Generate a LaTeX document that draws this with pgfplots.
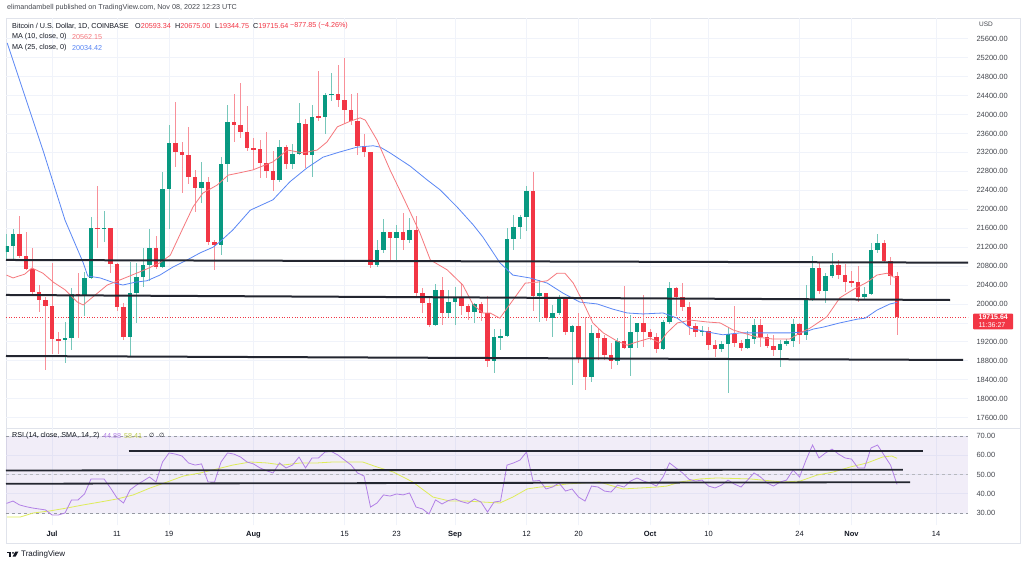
\documentclass[border=0pt]{standalone}
\usepackage{pgfplots}
\pgfplotsset{compat=1.18}
\usepackage{pgfplotstable}
\usepackage{fontspec}
\setmainfont{Liberation Sans}
\newfontfamily\djv{DejaVu Sans}
\definecolor{tvgreen}{RGB}{8,153,129}
\definecolor{tvred}{RGB}{242,54,69}
\definecolor{ma10}{RGB}{246,120,125}
\definecolor{ma25}{RGB}{90,135,245}
\definecolor{rsiline}{RGB}{178,128,230}
\definecolor{rsisma}{RGB}{222,236,90}
\definecolor{rsiband}{RGB}{126,87,194}
\definecolor{gridc}{RGB}{240,243,250}
\definecolor{framec}{RGB}{224,227,235}
\definecolor{txt}{RGB}{19,23,34}
\definecolor{lbl}{RGB}{70,73,80}
\definecolor{hline}{RGB}{35,38,48}
\definecolor{dashc}{RGB}{150,153,162}
\newcommand\tvf{\fontsize{7.5}{9}\selectfont}
\newcommand\tvs{\fontsize{7.2}{8.5}\selectfont}
\pgfplotsset{candle/.style={only marks, mark=*, mark size=0pt, mark options={draw=none, fill=none}, forget plot,
  error bars/.cd, y dir=both, y explicit, error mark=none}}

% green candles: d o h l c
\pgfplotstableread{
d o h l c
-7 21100 21480 20950 21230
-6 21230 21580 20910 21480
2 19230 19620 18760 19290
3 19290 20340 19030 20220
5 20180 20670 19750 20550
6 20550 21840 20530 21610
8 21590 21960 21310 21600
12 19310 20880 18880 20230
13 20230 20870 19600 20570
14 20570 21180 20360 20820
15 20820 21580 20480 21190
17 20780 22780 20750 22430
18 22430 23780 21580 23400
23 22450 23000 22130 22580
26 21250 23110 21040 22950
27 22950 24200 22580 23840
35 22620 23460 22580 23310
37 22950 23380 22850 23170
38 23170 24240 23150 23810
40 23150 24200 22680 23950
42 23940 24450 23590 24410
43 24410 24880 24290 24440
50 20830 21350 20780 21130
51 21130 21790 21070 21510
53 21400 21670 20890 21520
55 21360 21820 21290 21560
59 19550 20420 19540 20290
61 19810 20300 19730 20050
62 20050 20360 19560 20140
65 19830 20030 19600 19990
68 18800 19470 18540 19300
69 19300 19470 19030 19320
70 19320 21600 19300 21370
71 21370 21880 21140 21630
72 21630 21880 21370 21830
73 21830 22490 21540 22390
75 20170 20510 19620 20230
77 19700 19980 19300 19810
78 19810 20190 19770 20150
80 19410 19560 18290 19540
83 18460 19560 18350 19390
87 18800 19280 18710 19220
89 19070 19770 18480 19410
90 19410 19600 19070 19600
94 19050 19660 19030 19620
95 19620 20460 19580 20340
100 19410 19540 19320 19440
103 19050 19220 18990 19160
104 19160 19520 18120 19370
107 19070 19420 19060 19270
108 19270 19680 19160 19560
112 19030 19250 18670 19160
113 19160 19260 19110 19210
114 19210 19690 19090 19570
116 19340 20400 19250 20080
117 20080 21010 20060 20760
119 20280 20650 20020 20590
120 20590 21080 20550 20820
125 20150 20360 20080 20210
126 20210 21290 20180 21140
127 21140 21480 21080 21290
}\greendata

% red candles
\pgfplotstableread{
d o h l c
-5 21480 21860 20970 21010
-4 21010 21520 20720 20740
-3 20740 21180 20190 20250
-2 20250 20400 19840 20090
-1 20090 20140 18610 19960
0 19960 20870 18950 19260
1 19260 19410 18950 19230
4 20220 20650 19280 20180
7 21610 22490 21180 21590
9 21600 21600 20650 20850
10 20850 20860 19850 19940
11 19940 20030 19240 19310
16 21190 21440 20740 20780
19 23400 24260 22900 23210
20 23210 23420 22340 23150
21 23150 23740 22530 22680
22 22680 22830 21940 22450
24 22580 22670 21250 21310
25 21310 21350 20720 21250
28 23840 24440 23420 23780
29 23780 24660 23500 23630
30 23630 24180 23220 23290
31 23290 23500 22840 23270
32 23270 23460 22660 22980
33 22980 23630 22660 22810
34 22810 23230 22390 22620
36 23310 23360 22860 22950
39 23810 23900 22870 23150
41 23950 24920 23860 23940
44 24440 25050 24160 24300
45 24300 25200 23800 24090
46 24090 24430 23770 23860
47 23860 24450 23150 23340
48 23340 23590 23100 23200
49 23200 23210 20760 20830
52 21510 21530 20890 21400
54 21520 21920 21140 21360
56 21560 21860 20130 20240
57 20240 20340 19810 20030
58 20030 20150 19520 19550
60 20290 20570 19550 19810
63 20140 20440 19770 19950
64 19950 20000 19660 19830
66 19990 20050 19640 19800
67 19800 20170 18670 18800
74 22390 22790 19850 20170
76 20230 20240 19640 19700
79 20150 20150 19350 19410
81 19540 19810 18760 18860
82 18860 19730 18180 18460
84 19390 19490 18820 19280
85 19280 19350 18820 18920
86 18920 19180 18630 18800
88 19220 20380 19050 19070
91 19600 20190 19090 19410
92 19410 19480 19240 19300
93 19300 19390 18970 19050
96 20340 20360 19750 20150
97 20150 20440 19850 19940
98 19940 20050 19340 19530
99 19530 19600 19300 19410
101 19440 19520 19030 19130
102 19130 19250 18880 19050
105 19370 19960 19100 19180
106 19180 19230 19000 19070
109 19560 19690 19090 19310
110 19310 19360 19070 19120
111 19120 19340 18900 19030
115 19570 19600 19160 19340
118 20760 20870 20210 20280
121 20820 20930 20530 20610
122 20610 20840 20250 20470
123 20470 20700 20350 20460
124 20460 20800 20040 20150
128 21290 21350 20860 20900
129 20900 21000 20400 20593.34
130 20593.34 20675 19344.75 19715.64
}\reddata

\begin{document}
\begin{tikzpicture}[x=1pt,y=1pt]
\fill[white] (0,0) rectangle (1024,565);
% frame and separators
\draw[framec, line width=0.7pt] (6,22) rectangle (1020,547);
\draw[framec, line width=0.7pt] (6,137) -- (1020,137);

% ---------------- main price pane ----------------
\begin{axis}[
  at={(6pt,137pt)}, anchor=south west,
  width=962pt, height=410pt, scale only axis,
  xmin=-7.08, xmax=140.92, ymin=17382, ymax=26037,
  axis line style={draw=none},
  xtick={0,10,18,31,45,53,62,73,81,92,101,115,123,136},
  xticklabels={},
  ytick={17600,18000,18400,18800,19200,20000,20400,20800,21200,21600,22000,22400,22800,23200,23600,24000,24400,24800,25200,25600},
  yticklabel pos=right,
  scaled y ticks=false,
  major tick length=0pt,
  grid=major,
  major grid style={draw=gridc, line width=0.8pt},
  yticklabel style={font=\tvf, text=lbl, anchor=west, xshift=5pt,
    /pgf/number format/fixed, /pgf/number format/fixed zerofill,
    /pgf/number format/precision=2, /pgf/number format/1000 sep={},
    /pgf/number format/assume math mode=true},
]
% grid line at 19600 (its label is covered by the last-price tag)
\draw[gridc, line width=0.8pt] (axis cs:-7.08,19600) -- (axis cs:140.92,19600);
% last price dotted line
\addplot[tvred, dotted, line width=0.6pt, forget plot] coordinates {(-7.08,19715.64) (140.92,19715.64)};

% wicks
\addplot[candle, error bar style={line width=1pt, draw=tvgreen!55!white}]
  table[x=d, y expr={(\thisrow{h}+\thisrow{l})/2}, y error expr={(\thisrow{h}-\thisrow{l})/2}] {\greendata};
\addplot[candle, error bar style={line width=1pt, draw=tvred!55!white}]
  table[x=d, y expr={(\thisrow{h}+\thisrow{l})/2}, y error expr={(\thisrow{h}-\thisrow{l})/2}] {\reddata};
% bodies
\addplot[candle, error bar style={line width=4.8pt, draw=tvgreen}]
  table[x=d, y expr={(\thisrow{o}+\thisrow{c})/2}, y error expr={max(abs(\thisrow{c}-\thisrow{o})/2,14)}] {\greendata};
\addplot[candle, error bar style={line width=4.8pt, draw=tvred}]
  table[x=d, y expr={(\thisrow{o}+\thisrow{c})/2}, y error expr={max(abs(\thisrow{c}-\thisrow{o})/2,14)}] {\reddata};

% MA 25
\addplot[ma25, line width=0.8pt, mark=none] coordinates {
(-6.9,25510) (-1.4,23250) (2.0,21770) (4.8,20870) (5.5,20590) (7.4,20550) (9.7,20440) (10.9,20400) (12.8,20460) (14.6,20490) (16.6,20610) (18.6,20780) (20.8,20930) (22.8,21080) (24.8,21200) (25.8,21310) (27.8,21560) (30.5,21980) (34.0,22200) (36.6,22580) (39.2,22870) (41.7,23100) (44.3,23210) (46.9,23310) (49.4,23340) (50.5,23310) (52.0,23190) (55.1,22910) (57.7,22620) (59.7,22410) (62.3,22050) (64.8,21670) (66.3,21410) (68.9,20870) (70.9,20610) (73.5,20550) (76.2,20440) (78.6,20230) (81.2,20040) (83.9,20000) (86.3,19890) (88.5,19810) (90.9,19790) (94.0,19810) (96.2,19700) (98.2,19490) (100.8,19410) (103.2,19350) (105.9,19390) (110.9,19390) (113.5,19390) (115.9,19410) (117.1,19470) (118.6,19510) (121.2,19600) (123.9,19680) (125.1,19700) (126.9,19870) (128.9,20000) (130,20034.42)};
% MA 10
\addplot[ma10, line width=0.8pt, mark=none] coordinates {
(-7,20610) (-6,20550) (-4.2,20630) (-3.1,20760) (-1.4,20650) (0.2,20460) (2.0,20300) (3.9,20040) (4.8,19980) (6.3,20150) (8.5,20400) (10.5,20510) (12.3,20610) (14.6,20740) (16.6,20870) (18.2,21030) (20.0,21560) (21.7,22050) (23.2,22340) (25.4,22510) (27.1,22720) (28.9,22770) (30.9,22830) (34.0,23000) (36.2,23250) (38.6,23190) (40.8,23250) (42.3,23420) (43.9,23740) (45.9,23860) (47.4,23930) (48.2,23880) (50.0,23460) (52.0,22830) (54.0,22260) (55.1,21940) (56.6,21500) (58.2,20930) (60.8,20720) (63.2,20400) (64.8,19980) (66.3,19810) (67.4,19810) (68.9,19700) (70.9,20080) (72.8,20440) (74.6,20460) (76.2,20490) (77.7,20650) (78.9,20650) (80.2,20440) (81.7,20040) (83.2,19600) (84.8,19390) (86.9,19220) (88.5,19130) (90.0,19200) (92.0,19280) (93.5,19180) (94.6,19390) (96.2,19600) (98.2,19660) (100.8,19620) (102.8,19600) (104.8,19450) (106.3,19390) (108.5,19300) (110.9,19260) (113.5,19260) (115.1,19390) (116.6,19490) (119.2,19730) (121.2,20130) (123.2,20300) (125.4,20460) (126.9,20610) (128.5,20650) (129.4,20570) (130,20562.15)};

% drawn horizontal levels
\addplot[hline, line width=2pt, mark=none] coordinates {(-7.08,20929) (140.92,20872)};
\addplot[hline, line width=2pt, mark=none] coordinates {(-7.08,20190) (138.15,20084)};
\addplot[hline, line width=2pt, mark=none] coordinates {(-7.08,18902) (140.15,18818)};
\end{axis}

% ---------------- RSI pane ----------------
\begin{axis}[
  at={(6pt,40pt)}, anchor=south west,
  width=962pt, height=97pt, scale only axis,
  xmin=-7.08, xmax=140.92, ymin=23.77, ymax=74.16,
  axis line style={draw=none},
  xtick={0,10,18,31,45,53,62,73,81,92,101,115,123,136},
  xticklabels={\textbf{Jul},11,19,\textbf{Aug},15,23,\textbf{Sep},12,20,\textbf{Oct},10,24,\textbf{Nov},14},
  xticklabel style={font=\tvf, text=txt, yshift=-3pt},
  ytick={30,40,50,60,70},
  yticklabel pos=right,
  scaled y ticks=false,
  major tick length=0pt,
  grid=major,
  major grid style={draw=gridc, line width=0.8pt},
  yticklabel style={font=\tvf, text=lbl, anchor=west, xshift=5pt,
    /pgf/number format/fixed, /pgf/number format/fixed zerofill,
    /pgf/number format/precision=2,
    /pgf/number format/assume math mode=true},
]
\fill[rsiband, fill opacity=0.1] (axis cs:-7.08,30) rectangle (axis cs:140.92,70);
\draw[dashc, line width=0.6pt, dash pattern=on 3pt off 3pt] (axis cs:-7.08,70) -- (axis cs:140.92,70);
\draw[dashc!70!white, line width=0.6pt, dash pattern=on 3pt off 3pt] (axis cs:-7.08,50) -- (axis cs:140.92,50);
\draw[dashc, line width=0.6pt, dash pattern=on 3pt off 3pt] (axis cs:-7.08,30) -- (axis cs:140.92,30);

% RSI SMA
\addplot[rsisma, line width=0.8pt, mark=none] coordinates {
(-6.9,27.9) (-4.9,27.9) (-2.9,30.0) (-0.3,31.1) (2.3,32.6) (4.8,34.2) (7.4,35.7) (10.0,37.3) (12.5,39.4) (15.1,43.0) (17.7,46.1) (20.2,49.2) (22.8,50.8) (25.4,52.9) (27.8,54.9) (30.5,56.5) (33.1,56.0) (35.5,54.9) (38.2,56.0) (40.8,56.0) (43.2,56.5) (45.8,56.5) (47.8,56.5) (50.0,53.9) (52.5,51.3) (55.5,46.1) (58.6,38.3) (61.2,36.2) (63.8,36.2) (66.3,35.7) (68.9,35.2) (70.9,38.3) (73.1,42.5) (75.1,43.5) (77.1,44.0) (79.2,45.1) (81.7,45.6) (84.3,46.1) (85.8,44.5) (87.8,42.5) (90.5,43.0) (93.1,43.5) (94.6,44.0) (96.6,46.1) (99.7,47.7) (102.3,48.2) (107.4,47.7) (112.5,46.1) (115.1,46.6) (117.7,49.7) (120.2,51.3) (122.8,53.9) (125.4,56.0) (127.8,59.1) (129.2,59.6) (130,58.41)};
% RSI
\addplot[rsiline, line width=0.8pt, mark=none] coordinates {
(-7,35.0) (-6,36.2) (-5,34.2) (-4,33.3) (-3,32.6) (-2,32.1) (-1,31.6) (0,29.0) (1,29.0) (2,30.0) (3,36.8) (4,36.8) (5,39.9) (6,47.7) (7,47.7) (8,47.7) (9,43.0) (10,37.8) (11,35.2) (12,42.0) (13,44.5) (14,46.6) (15,48.7) (16,46.1) (17,56.5) (18,61.2) (19,60.6) (20,59.6) (21,56.0) (22,54.9) (23,55.5) (24,46.1) (25,46.1) (26,56.5) (27,61.2) (28,60.6) (29,59.1) (30,56.5) (31,55.5) (32,53.4) (33,52.0) (34,50.8) (35,56.0) (36,53.4) (37,54.9) (38,59.1) (39,53.4) (40,58.6) (41,58.6) (42,61.7) (43,61.9) (44,60.1) (45,57.5) (46,55.0) (47,50.8) (48,49.2) (49,33.1) (50,35.2) (51,39.4) (52,38.8) (53,39.9) (54,39.4) (55,40.4) (56,33.1) (57,32.1) (58,29.5) (59,36.8) (60,34.7) (61,36.5) (62,37.3) (63,35.9) (64,35.0) (65,37.3) (66,35.7) (67,30.5) (68,35.7) (69,36.2) (70,54.9) (71,56.0) (72,57.5) (73,61.7) (74,46.6) (75,46.9) (76,42.5) (77,43.5) (78,45.6) (79,41.4) (80,42.5) (81,38.3) (82,36.2) (83,44.0) (84,43.5) (85,41.4) (86,40.9) (87,44.5) (88,43.5) (89,46.6) (90,48.2) (91,46.6) (92,45.6) (93,44.0) (94,48.7) (95,56.0) (96,53.4) (97,50.8) (98,47.5) (99,46.6) (100,47.1) (101,44.0) (102,43.0) (103,44.5) (104,47.1) (105,45.0) (106,43.5) (107,47.1) (108,50.8) (109,48.7) (110,45.6) (111,44.0) (112,46.1) (113,47.1) (114,52.3) (115,48.7) (116,57.5) (117,65.3) (118,58.6) (119,61.2) (120,63.2) (121,60.6) (122,58.6) (123,58.0) (124,53.4) (125,53.4) (126,63.8) (127,65.3) (128,60.1) (129,54.9) (130,44.88)};

% drawn levels on RSI
\addplot[hline, line width=1.8pt, mark=none] coordinates {(11.8,62.4) (134.0,62.4)};
\addplot[hline, line width=1.8pt, mark=none] coordinates {(-7.08,52.1) (130.9,52.5)};
\addplot[hline, line width=1.8pt, mark=none] coordinates {(-7.08,45.2) (132.0,46.0)};
\end{axis}

% ---------------- texts ----------------
\node[anchor=west, inner sep=0pt, font=\tvs, text=lbl] at (7,557) {elimandambell published on TradingView.com, Nov 08, 2022 12:23 UTC};
\begin{scope}[every node/.style={anchor=west, inner sep=0pt, font=\tvs, text=txt}]
\node at (12,539) {Bitcoin / U.S. Dollar, 1D, COINBASE};
\node at (135,539) {O\textcolor{tvred}{20593.34}};
\node at (175,539) {H\textcolor{tvred}{20675.00}};
\node at (215,539) {L\textcolor{tvred}{19344.75}};
\node at (253,539) {C\textcolor{tvred}{19715.64}};
\node at (290,539) {\textcolor{tvred}{−877.85 (−4.26\%)}};
\node at (12,528) {MA (10, close, 0)};
\node at (72,528) {\textcolor{ma10}{20562.15}};
\node at (12,517) {MA (25, close, 0)};
\node at (72,517) {\textcolor{ma25}{20034.42}};
\node at (12,129.3) {RSI (14, close, SMA, 14, 2)};
\node at (103,129.3) {\textcolor{rsiline}{44.88}};
\node at (124,129.3) {\textcolor{rsisma!85!black}{58.41}};
\node at (149,129.3) {{\djv\fontsize{6}{7}\selectfont ∅}};
\node at (159,129.3) {{\djv\fontsize{6}{7}\selectfont ∅}};
\node[text=lbl, font=\fontsize{6.5}{8}\selectfont] at (979,541) {USD};
\end{scope}

% last price label
\node[anchor=west, fill=tvred, text=white, rounded corners=1pt, inner xsep=3pt, inner ysep=1.5pt,
      minimum width=40pt, font=\fontsize{7}{8}\selectfont, align=left] at (973,243.5) {\textbf{19715.64}\\11:36:27};

% TradingView logo
\fill[txt] (7,11.8) rectangle (11,13.3);
\fill[txt] (9.3,8.3) rectangle (11,13.3);
\fill[txt] (13,12.2) circle (1.0);
\fill[txt] (15.3,13.3) -- (18.3,13.3) -- (15.6,8.3) -- (12.6,8.3) -- cycle;
\node[anchor=west, inner sep=0pt, font=\fontsize{8}{9}\selectfont, text=txt] at (21,10.7) {TradingView};
\end{tikzpicture}
\end{document}
